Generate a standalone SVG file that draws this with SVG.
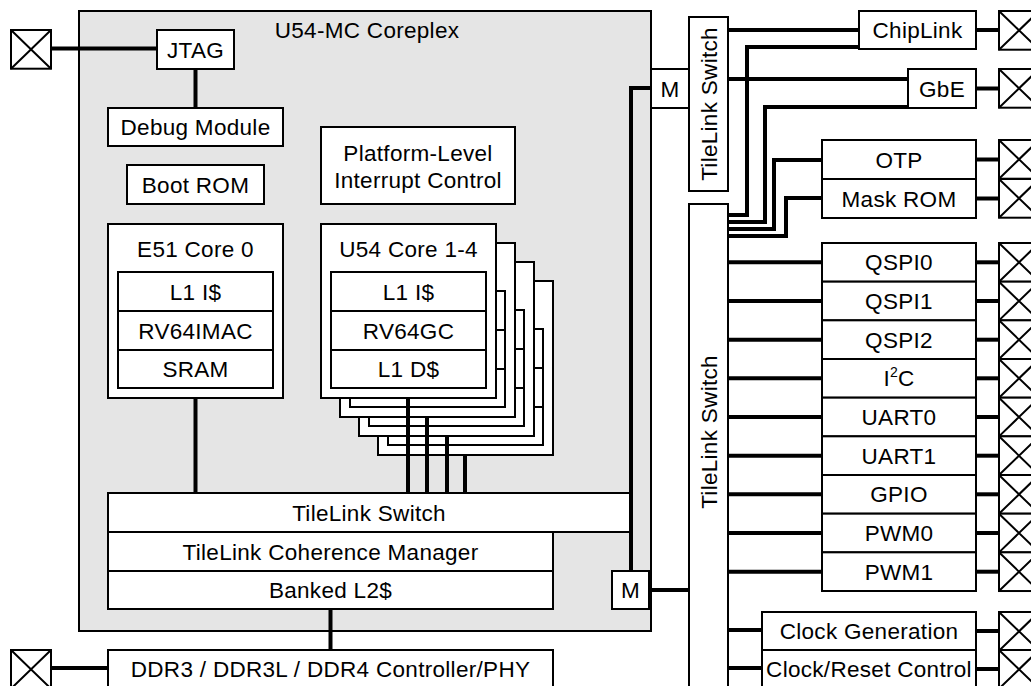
<svg xmlns="http://www.w3.org/2000/svg" xmlns:xlink="http://www.w3.org/1999/xlink" width="1031" height="686" viewBox="0 0 1031 686">
<style>
.box{fill:#fff;stroke:#000;stroke-width:2}
.cplx{fill:#e5e5e5;stroke:#000;stroke-width:2}
.wire{fill:none;stroke:#000;stroke-width:4}
.xl{fill:none;stroke:#000;stroke-width:2}
text{font-family:"Liberation Sans",Arial,Helvetica,sans-serif;font-size:22.5px;fill:#000;letter-spacing:0.3px}
.c{text-anchor:middle}
</style>
<defs>
<g id="pad"><rect class="box" x="0" y="0" width="40" height="38.7"/><path class="xl" d="M0 0L40 38.7M40 0L0 38.7"/></g>
<g id="core">
<rect class="box" x="0" y="0" width="175" height="174"/>
<rect class="box" x="10" y="48" width="155" height="39"/>
<rect class="box" x="10" y="87" width="155" height="39"/>
<rect class="box" x="10" y="126" width="155" height="38"/>
</g>
</defs>

<g id="coreplex">
<rect class="cplx" x="79" y="11" width="572" height="620"/>
<text class="c" x="367" y="38">U54-MC Coreplex</text>
</g>

<g id="pad-jtag"><use href="#pad" x="11" y="30"/></g>
<g id="jtag"><rect class="box" x="157" y="30" width="77" height="39"/><text class="c" x="195.5" y="57.5">JTAG</text></g>
<g id="debug"><rect class="box" x="108" y="108" width="175" height="38"/><text class="c" x="195.5" y="135">Debug Module</text></g>
<g id="bootrom"><rect class="box" x="127" y="165" width="137" height="39"/><text class="c" x="195.5" y="192.5">Boot ROM</text></g>
<g id="plic"><rect class="box" x="321" y="127" width="194" height="77"/><text class="c" x="418" y="161">Platform-Level</text><text class="c" x="418" y="188">Interrupt Control</text></g>

<g id="e51">
<use href="#core" x="108" y="224"/>
<text class="c" x="195.5" y="257">E51 Core 0</text>
<text class="c" x="195.5" y="299.5">L1 I$</text>
<text class="c" x="195.5" y="338.5">RV64IMAC</text>
<text class="c" x="195.5" y="377">SRAM</text>
</g>

<g id="u54">
<use href="#core" x="378" y="281"/>
<use href="#core" x="359" y="262"/>
<use href="#core" x="340" y="243"/>
<use href="#core" x="321" y="224"/>
<text class="c" x="408.5" y="257">U54 Core 1-4</text>
<text class="c" x="408.5" y="299.5">L1 I$</text>
<text class="c" x="408.5" y="338.5">RV64GC</text>
<text class="c" x="408.5" y="377">L1 D$</text>
</g>

<g id="tl-switch-core"><rect class="box" x="108" y="493" width="522" height="39"/><text class="c" x="369" y="520.5">TileLink Switch</text></g>
<g id="tlcm"><rect class="box" x="108" y="532" width="445" height="39"/><text class="c" x="330.5" y="559.5">TileLink Coherence Manager</text></g>
<g id="l2"><rect class="box" x="108" y="571" width="445" height="38"/><text class="c" x="330.5" y="598">Banked L2$</text></g>

<g id="m-top"><rect class="box" x="651" y="69" width="38" height="39"/><text class="c" x="670" y="96.5">M</text></g>
<g id="m-bot"><rect class="box" x="612" y="571" width="37" height="38"/><text class="c" x="630.5" y="598">M</text></g>

<g id="ddr"><rect class="box" x="108" y="650" width="445" height="50"/><text class="c" x="330.5" y="677">DDR3 / DDR3L / DDR4 Controller/PHY</text></g>
<g id="pad-ddr"><use href="#pad" x="11" y="650"/></g>

<g id="tl-switch-top"><rect class="box" x="689" y="17" width="39" height="174"/><text class="c" transform="translate(716.5 104) rotate(-90)">TileLink Switch</text></g>
<g id="tl-switch-bot"><rect class="box" x="689" y="204" width="39" height="500"/><text class="c" transform="translate(716.5 432) rotate(-90)">TileLink Switch</text></g>

<g id="chiplink"><rect class="box" x="859" y="11" width="117" height="38"/><text class="c" x="917.5" y="38">ChipLink</text></g>
<g id="gbe"><rect class="box" x="908" y="69" width="68" height="39"/><text class="c" x="942" y="96.5">GbE</text></g>
<g id="otp"><rect class="box" x="822" y="140" width="154" height="39"/><text class="c" x="899" y="167.5">OTP</text></g>
<g id="maskrom"><rect class="box" x="822" y="179" width="154" height="39"/><text class="c" x="899" y="206.5">Mask ROM</text></g>

<g id="qspi0"><rect class="box" x="822" y="243" width="154" height="38.67"/><text class="c" x="899" y="270.3">QSPI0</text></g>
<g id="qspi1"><rect class="box" x="822" y="281.67" width="154" height="38.67"/><text class="c" x="899" y="309">QSPI1</text></g>
<g id="qspi2"><rect class="box" x="822" y="320.33" width="154" height="38.67"/><text class="c" x="899" y="347.7">QSPI2</text></g>
<g id="i2c"><rect class="box" x="822" y="359" width="154" height="38.67"/><text class="c" x="899" y="386.3">I<tspan font-size="14" dy="-9">2</tspan><tspan dy="9">C</tspan></text></g>
<g id="uart0"><rect class="box" x="822" y="397.67" width="154" height="38.67"/><text class="c" x="899" y="425">UART0</text></g>
<g id="uart1"><rect class="box" x="822" y="436.33" width="154" height="38.67"/><text class="c" x="899" y="463.7">UART1</text></g>
<g id="gpio"><rect class="box" x="822" y="475" width="154" height="38.67"/><text class="c" x="899" y="502.3">GPIO</text></g>
<g id="pwm0"><rect class="box" x="822" y="513.67" width="154" height="38.67"/><text class="c" x="899" y="541">PWM0</text></g>
<g id="pwm1"><rect class="box" x="822" y="552.33" width="154" height="38.67"/><text class="c" x="899" y="579.7">PWM1</text></g>

<g id="clkgen"><rect class="box" x="762" y="612" width="214" height="38"/><text class="c" x="869" y="639">Clock Generation</text></g>
<g id="clkrst"><rect class="box" x="762" y="650" width="214" height="40"/><text class="c" x="869" y="677">Clock/Reset Control</text></g>

<g id="pads-right">
<use href="#pad" x="999" y="11"/>
<use href="#pad" x="999" y="69"/>
<use href="#pad" x="999" y="140"/>
<use href="#pad" x="999" y="179"/>
<use href="#pad" x="999" y="243"/>
<use href="#pad" x="999" y="281.67"/>
<use href="#pad" x="999" y="320.33"/>
<use href="#pad" x="999" y="359"/>
<use href="#pad" x="999" y="397.67"/>
<use href="#pad" x="999" y="436.33"/>
<use href="#pad" x="999" y="475"/>
<use href="#pad" x="999" y="513.67"/>
<use href="#pad" x="999" y="552.33"/>
<use href="#pad" x="999" y="612"/>
<use href="#pad" x="999" y="650"/>
</g>

<g id="connectors" class="wire">
<path d="M51 48.5H157"/>
<path d="M195.5 69V108"/>
<path d="M195.5 398V493"/>
<path d="M408 398V493"/>
<path d="M427 417V493"/>
<path d="M447 436V493"/>
<path d="M465 455V493"/>
<path d="M651 88H631V571"/>
<path d="M330.5 609V650"/>
<path d="M51 668H108"/>
<path d="M649 590H689"/>
<path d="M728 30H859"/>
<path d="M728 79H908"/>
<path d="M859 47H747V215H728"/>
<path d="M908 107H765V222H728"/>
<path d="M822 160H774V229H728"/>
<path d="M822 198H786V236H728"/>
<path d="M728 262.3H822"/>
<path d="M728 301H822"/>
<path d="M728 339.7H822"/>
<path d="M728 378.3H822"/>
<path d="M728 417H822"/>
<path d="M728 455.7H822"/>
<path d="M728 494.3H822"/>
<path d="M728 533H822"/>
<path d="M728 571.7H822"/>
<path d="M728 630H762"/>
<path d="M728 668H762"/>
<path d="M976 30H999"/>
<path d="M976 88.5H999"/>
<path d="M976 159.5H999"/>
<path d="M976 198.5H999"/>
<path d="M976 262.3H999"/>
<path d="M976 301H999"/>
<path d="M976 339.7H999"/>
<path d="M976 378.3H999"/>
<path d="M976 417H999"/>
<path d="M976 455.7H999"/>
<path d="M976 494.3H999"/>
<path d="M976 533H999"/>
<path d="M976 571.7H999"/>
<path d="M976 631H999"/>
<path d="M976 669H999"/>
</g>
</svg>
